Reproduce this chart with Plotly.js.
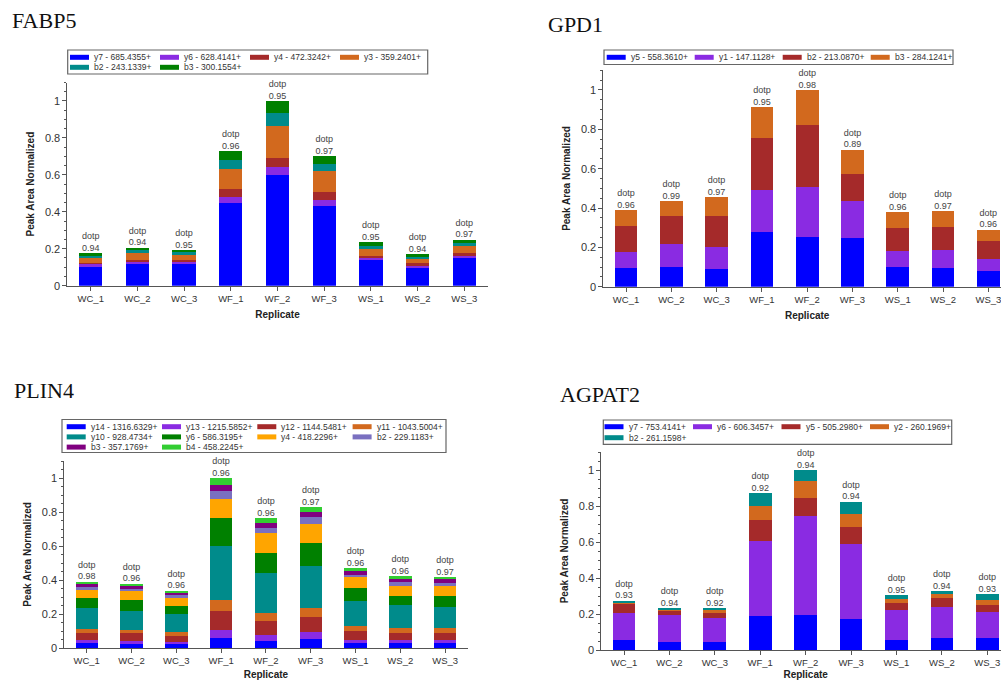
<!DOCTYPE html>
<html>
<head>
<meta charset="utf-8">
<script src="https://cdn.plot.ly/plotly-3.0.1.min.js"></script>
<style>
html,body{margin:0;padding:0;background:#fff;overflow:hidden;}
#chart{width:1015px;height:680px;}
</style>
</head>
<body>
<div id="chart"></div>
<script>
// ---------- data ----------
const replicates = ['WC_1','WC_2','WC_3','WF_1','WF_2','WF_3','WS_1','WS_2','WS_3'];

// FABP5
const fabp5Labels = ['y7 - 685.4355+','y6 - 628.4141+','y4 - 472.3242+','y3 - 359.2401+','b2 - 243.1339+','b3 - 300.1554+'];
const fabp5_y7 = [0.103,0.117,0.117,0.446,0.599,0.433,0.139,0.097,0.148];
const fabp5_y6 = [0.012,0.011,0.009,0.036,0.042,0.031,0.011,0.011,0.013];
const fabp5_y4 = [0.010,0.011,0.013,0.043,0.052,0.041,0.012,0.013,0.018];
const fabp5_y3 = [0.025,0.036,0.027,0.105,0.172,0.116,0.038,0.022,0.038];
const fabp5_b2 = [0.013,0.018,0.014,0.050,0.068,0.038,0.017,0.014,0.016];
const fabp5_b3 = [0.012,0.013,0.011,0.049,0.067,0.043,0.018,0.013,0.016];
const fabp5Dotp = [0.94,0.94,0.95,0.96,0.95,0.97,0.95,0.94,0.97];

// GPD1
const gpd1Labels = ['y5 - 558.3610+','y1 - 147.1128+','b2 - 213.0870+','b3 - 284.1241+'];
const gpd1_y5 = [0.095,0.102,0.088,0.276,0.253,0.249,0.098,0.095,0.078];
const gpd1_y1 = [0.081,0.113,0.112,0.216,0.252,0.185,0.085,0.093,0.064];
const gpd1_b2 = [0.134,0.143,0.158,0.266,0.315,0.137,0.114,0.114,0.090];
const gpd1_b3 = [0.078,0.076,0.096,0.154,0.180,0.126,0.081,0.081,0.058];
const gpd1Dotp = [0.96,0.99,0.97,0.95,0.98,0.89,0.96,0.97,0.96];

// PLIN4
const plin4Labels = ['y14 - 1316.6329+','y13 - 1215.5852+','y12 - 1144.5481+','y11 - 1043.5004+','y10 - 928.4734+','y6 - 586.3195+','y4 - 418.2296+','b2 - 229.1183+','b3 - 357.1769+','b4 - 458.2245+'];
const plin4_y14 = [0.027,0.024,0.022,0.061,0.041,0.055,0.031,0.027,0.027];
const plin4_y13 = [0.020,0.015,0.011,0.045,0.035,0.037,0.018,0.018,0.018];
const plin4_y12 = [0.043,0.047,0.040,0.112,0.085,0.088,0.053,0.045,0.045];
const plin4_y11 = [0.024,0.020,0.021,0.064,0.045,0.053,0.029,0.030,0.026];
const plin4_y10 = [0.119,0.112,0.104,0.320,0.233,0.247,0.144,0.133,0.123];
const plin4_y6  = [0.063,0.066,0.051,0.165,0.122,0.136,0.080,0.053,0.069];
const plin4_y4  = [0.043,0.049,0.047,0.111,0.117,0.115,0.061,0.061,0.055];
const plin4_b2  = [0.022,0.016,0.016,0.046,0.028,0.042,0.015,0.019,0.021];
const plin4_b3  = [0.015,0.016,0.012,0.033,0.031,0.025,0.020,0.020,0.020];
const plin4_b4  = [0.014,0.013,0.013,0.043,0.028,0.031,0.018,0.018,0.014];
const plin4Dotp = [0.98,0.96,0.96,0.96,0.96,0.97,0.96,0.96,0.97];

// AGPAT2
const agpat2Labels = ['y7 - 753.4141+','y6 - 606.3457+','y5 - 505.2980+','y2 - 260.1969+','b2 - 261.1598+'];
const agpat2_y7 = [0.056,0.046,0.043,0.189,0.194,0.174,0.057,0.067,0.065];
const agpat2_y6 = [0.150,0.150,0.137,0.415,0.552,0.415,0.163,0.172,0.148];
const agpat2_y5 = [0.048,0.019,0.027,0.116,0.098,0.092,0.041,0.052,0.037];
const agpat2_y2 = [0.009,0.009,0.015,0.082,0.095,0.075,0.020,0.020,0.026];
const agpat2_b2 = [0.011,0.007,0.009,0.070,0.061,0.068,0.025,0.017,0.035];
const agpat2Dotp = [0.93,0.94,0.92,0.92,0.94,0.94,0.95,0.94,0.93];

// ---------- styling ----------
const W = 1015, H = 680;
const C = {
  blue:'#0000FF', violet:'#8A2BE2', brown:'#A52A2A', choc:'#D2691E',
  cyan:'#008B8B', green:'#008000', orange:'#FFA500', slate:'#7A70C0',
  purple:'#800080', lime:'#32CD32'
};
const px = v => v / W;
const py = v => 1 - v / H;

const panels = [
  { title:'FABP5', tx:10, ty:20, labels:fabp5Labels,
    series:[fabp5_y7,fabp5_y6,fabp5_y4,fabp5_y3,fabp5_b2,fabp5_b3],
    colors:[C.blue,C.violet,C.brown,C.choc,C.cyan,C.green], dotp:fabp5Dotp,
    xd:[67.4,487.6], yd:[82.5,285.7],
    leg:{box:[67.7,50,427.7,74], sx:70, colW:90, r0:57.3, rH:10} },
  { title:'GPD1', tx:546, ty:24.2, labels:gpd1Labels,
    series:[gpd1_y5,gpd1_y1,gpd1_b2,gpd1_b3],
    colors:[C.blue,C.violet,C.brown,C.choc], dotp:gpd1Dotp,
    xd:[603.4,1011], yd:[70.3,286.7],
    leg:{box:[604,50,953,64.5], sx:606.7, colW:88, r0:57.3, rH:10} },
  { title:'PLIN4', tx:12, ty:390.5, labels:plin4Labels,
    series:[plin4_y14,plin4_y13,plin4_y12,plin4_y11,plin4_y10,plin4_y6,plin4_y4,plin4_b2,plin4_b3,plin4_b4],
    colors:[C.blue,C.violet,C.brown,C.choc,C.cyan,C.green,C.orange,C.slate,C.purple,C.lime], dotp:plin4Dotp,
    xd:[64.3,467.5], yd:[461,648],
    leg:{box:[62,419.5,446,452.5], sx:66.7, colW:95.3, r0:426.7, rH:10.2} },
  { title:'AGPAT2', tx:557.7, ty:394.7, labels:agpat2Labels,
    series:[agpat2_y7,agpat2_y6,agpat2_y5,agpat2_y2,agpat2_b2],
    colors:[C.blue,C.violet,C.brown,C.choc,C.cyan], dotp:agpat2Dotp,
    xd:[601.3,1010], yd:[452,650],
    leg:{box:[603.3,420,951.7,444.3], sx:604.5, colW:88.5, r0:426.7, rH:11} }
];

const traces = [];
const layout = {
  width:W, height:H, autosize:false,
  margin:{l:0,r:0,t:0,b:0},
  paper_bgcolor:'#fff', plot_bgcolor:'#fff',
  barmode:'stack', showlegend:false,
  font:{family:'Arial, Liberation Sans, sans-serif', color:'#333'},
  annotations:[], shapes:[]
};

panels.forEach((p, i) => {
  const n = i === 0 ? '' : String(i + 1);
  const xa = 'x' + n, ya = 'y' + n;
  p.series.forEach((vals, k) => {
    traces.push({
      type:'bar', x:replicates, y:vals, name:p.labels[k],
      xaxis:xa, yaxis:ya, width:0.5,
      marker:{color:p.colors[k], line:{width:0}},
      hoverinfo:'x+y+name'
    });
  });
  const totals = replicates.map((_, j) => p.series.reduce((s, a) => s + a[j], 0));
  traces.push({
    type:'scatter', mode:'text', x:replicates, y:totals, xaxis:xa, yaxis:ya,
    text:p.dotp.map(d => 'dotp<br>' + d.toFixed(2)),
    textposition:'top center', textfont:{size:9, color:'#444'},
    cliponaxis:false, hoverinfo:'skip', showlegend:false
  });

  layout['xaxis' + n] = {
    domain:[px(p.xd[0]), px(p.xd[1])], anchor:ya,
    type:'category', range:[-0.5, 8.5],
    showline:true, linecolor:'#555', linewidth:1,
    ticks:'outside', ticklen:4, tickcolor:'#555',
    tickfont:{size:9.5, color:'#333'},
    showgrid:false, zeroline:false, fixedrange:true,
    title:{text:'<b>Replicate</b>', font:{size:10, color:'#222'}, standoff:7}
  };
  layout['yaxis' + n] = {
    domain:[py(p.yd[1]), py(p.yd[0])], anchor:xa,
    range:[0, 1.1], dtick:0.2, tick0:0,
    showline:true, linecolor:'#555', linewidth:1,
    ticks:'outside', ticklen:4, tickcolor:'#555',
    minor:{dtick:0.05, ticks:'outside', ticklen:2, tickcolor:'#555'},
    tickfont:{size:11, color:'#333'},
    showgrid:false, zeroline:false, fixedrange:true,
    title:{text:'<b>Peak Area Normalized</b>', font:{size:10, color:'#222'}, standoff:8}
  };

  // panel title
  layout.annotations.push({
    xref:'paper', yref:'paper', x:px(p.tx), y:py(p.ty),
    xanchor:'left', yanchor:'middle', showarrow:false,
    text:p.title, font:{family:'Liberation Serif, Times New Roman, serif', size:22, color:'#111'}
  });

  // legend box (built from the series labels and colours)
  const L = p.leg;
  layout.shapes.push({
    type:'rect', xref:'paper', yref:'paper',
    x0:px(L.box[0]), x1:px(L.box[2]), y0:py(L.box[3]), y1:py(L.box[1]),
    line:{color:'#666', width:1.2}, fillcolor:'rgba(0,0,0,0)'
  });
  p.labels.forEach((lab, k) => {
    const col = k % 4, row = Math.floor(k / 4);
    const sx = L.sx + col * L.colW, cy = L.r0 + row * L.rH;
    layout.shapes.push({
      type:'rect', xref:'paper', yref:'paper',
      x0:px(sx), x1:px(sx + 19), y0:py(cy + 2.5), y1:py(cy - 2.5),
      line:{width:0}, fillcolor:p.colors[k]
    });
    layout.annotations.push({
      xref:'paper', yref:'paper', x:px(sx + 22), y:py(cy),
      xanchor:'left', yanchor:'middle', showarrow:false,
      text:lab, font:{size:8.5, color:'#333'}
    });
  });
});

Plotly.newPlot('chart', traces, layout, {displayModeBar:false, staticPlot:true});
</script>
</body>
</html>
